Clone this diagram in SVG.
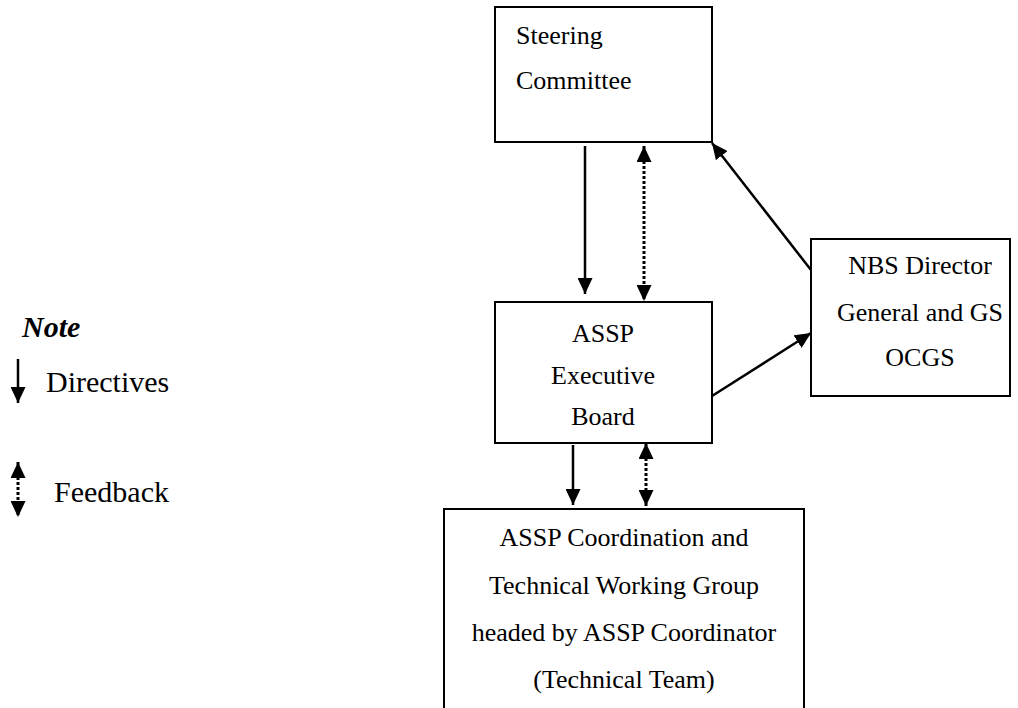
<svg xmlns="http://www.w3.org/2000/svg" width="1018" height="708" viewBox="0 0 1018 708">
<defs>
<marker id="ah" viewBox="0 0 16 15" refX="16" refY="7.5" markerWidth="16" markerHeight="15" markerUnits="userSpaceOnUse" orient="auto-start-reverse">
<path d="M0,0 L16,7.5 L0,15 Z" fill="#000"/>
</marker>
<style>
.box{fill:#fff;stroke:#000;stroke-width:2}
.t{font-family:"Liberation Serif","Times New Roman",serif;font-size:26px;fill:#000}
.c{text-anchor:middle}
.ln{stroke:#000;stroke-width:2.5;fill:none}
.dot{stroke:#000;stroke-width:3;fill:none;stroke-dasharray:3 2}
.lg{font-family:"Liberation Serif","Times New Roman",serif;font-size:30px;fill:#000}
</style>
</defs>
<rect width="1018" height="708" fill="#fff"/>
<g id="steering">
<rect class="box" x="495" y="7" width="217" height="135"/>
<text class="t" x="516" y="44">Steering</text>
<text class="t" x="516" y="89">Committee</text>
</g>
<g id="exec">
<rect class="box" x="495" y="302" width="217" height="141"/>
<text class="t c" x="603" y="342">ASSP</text>
<text class="t c" x="603" y="384">Executive</text>
<text class="t c" x="603" y="425">Board</text>
</g>
<g id="nbs">
<rect class="box" x="811" y="239" width="199" height="157"/>
<text class="t c" x="920" y="274">NBS Director</text>
<text class="t c" x="920" y="321">General and GS</text>
<text class="t c" x="920" y="366">OCGS</text>
</g>
<g id="coord">
<rect class="box" x="444" y="509" width="360" height="210"/>
<text class="t c" x="624" y="546">ASSP Coordination and</text>
<text class="t c" x="624" y="594">Technical Working Group</text>
<text class="t c" x="624" y="641">headed by ASSP Coordinator</text>
<text class="t c" x="624" y="688">(Technical Team)</text>
</g>
<g id="connectors">
<line class="ln" x1="585" y1="146" x2="585" y2="294" marker-end="url(#ah)"/>
<line class="dot" x1="644" y1="146" x2="644" y2="301" marker-start="url(#ah)" marker-end="url(#ah)"/>
<line class="ln" x1="811" y1="270" x2="712" y2="143" marker-end="url(#ah)"/>
<line class="ln" x1="712" y1="396" x2="811" y2="333" marker-end="url(#ah)"/>
<line class="ln" x1="573" y1="445" x2="573" y2="505" marker-end="url(#ah)"/>
<line class="dot" x1="646" y1="443" x2="646" y2="506" marker-start="url(#ah)" marker-end="url(#ah)"/>
</g>
<g id="legend">
<text class="lg" x="22" y="337" font-weight="bold" font-style="italic">Note</text>
<line class="ln" x1="18" y1="359" x2="18" y2="403" marker-end="url(#ah)"/>
<text class="lg" x="46" y="392">Directives</text>
<line class="dot" x1="18" y1="462" x2="18" y2="517" marker-start="url(#ah)" marker-end="url(#ah)"/>
<text class="lg" x="54" y="502">Feedback</text>
</g>
</svg>
